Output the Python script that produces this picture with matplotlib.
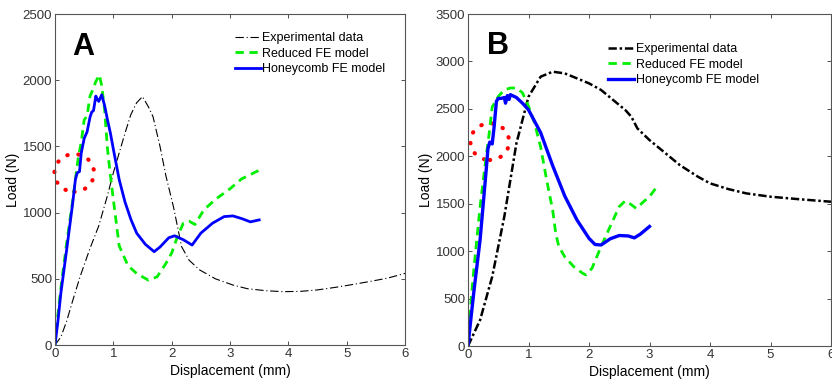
import matplotlib
matplotlib.use('Agg')
import matplotlib.pyplot as plt
from matplotlib.patches import Ellipse
import numpy as np

plt.rcParams['font.family'] = ['Liberation Sans', 'DejaVu Sans']

# ---- panel A data ----
a_exp_x = [0, 0.1, 0.2, 0.3, 0.43, 0.6, 0.75, 0.9, 1.0, 1.1, 1.2, 1.3, 1.4, 1.5, 1.6, 1.68,
           1.8, 1.9, 2.03, 2.17, 2.3, 2.48, 2.75, 3.05, 3.3, 3.62, 3.9, 4.2, 4.48, 4.8, 5.05,
           5.4, 5.7, 6.0]
a_exp_y = [0, 60, 180, 330, 516, 730, 900, 1130, 1300, 1450, 1600, 1740, 1830, 1876, 1800,
           1725, 1500, 1280, 1045, 743, 640, 567, 500, 453, 425, 410, 403, 405, 415, 435, 453,
           480, 505, 541]

a_red_x = [0, 0.05, 0.1, 0.2, 0.3, 0.35, 0.4, 0.45, 0.5, 0.55, 0.6, 0.65, 0.7, 0.76, 0.8,
           0.85, 0.9, 0.95, 1.0, 1.1, 1.25, 1.4, 1.6, 1.75, 1.9, 2.0, 2.1, 2.2, 2.3, 2.4, 2.55,
           2.75, 3.0, 3.2, 3.5]
a_red_y = [0, 230, 430, 770, 1080, 1250, 1420, 1530, 1700, 1730, 1880, 1930, 1990, 2040, 1960,
           1780, 1480, 1280, 1100, 750, 600, 540, 490, 515, 615, 695, 820, 920, 935, 910, 1020,
           1100, 1180, 1255, 1320]

a_hc_x = [0, 0.05, 0.1, 0.2, 0.3, 0.35, 0.38, 0.42, 0.45, 0.5, 0.55, 0.6, 0.63, 0.66, 0.7,
          0.72, 0.75, 0.8, 0.85, 0.9, 0.95, 1.0, 1.1, 1.2, 1.3, 1.4, 1.55, 1.7, 1.8, 1.95, 2.05,
          2.2, 2.35, 2.5, 2.7, 2.9, 3.05, 3.2, 3.35, 3.5]
a_hc_y = [0, 180, 390, 720, 1060, 1250, 1300, 1310, 1450, 1560, 1610, 1720, 1760, 1770, 1880,
          1860, 1840, 1890, 1810, 1700, 1600, 1480, 1250, 1080, 950, 845, 760, 705, 740, 810,
          825, 795, 755, 845, 920, 970, 975, 955, 930, 945]

# ---- panel B data ----
b_exp_x = [0, 0.2, 0.4, 0.6, 0.8, 1.0, 1.2, 1.4, 1.6, 1.8, 2.0, 2.2, 2.4, 2.6, 2.7, 2.8, 3.0,
           3.2, 3.5, 3.8, 4.0, 4.3, 4.6, 5.0, 5.5, 6.0]
b_exp_y = [0, 274, 731, 1363, 2136, 2628, 2839, 2892, 2874, 2822, 2769, 2699, 2593, 2488, 2417,
           2294, 2171, 2066, 1908, 1785, 1715, 1655, 1609, 1574, 1546, 1521]

b_red_x = [0, 0.05, 0.1, 0.2, 0.3, 0.35, 0.4, 0.5, 0.6, 0.7, 0.8, 0.9, 1.0, 1.1, 1.2, 1.3, 1.4,
           1.45, 1.5, 1.6, 1.75, 1.9, 1.95, 2.05, 2.2, 2.35, 2.5, 2.6, 2.7, 2.78, 2.9, 3.0, 3.1]
b_red_y = [0, 480, 830, 1470, 2000, 2240, 2520, 2630, 2700, 2720, 2720, 2670, 2530, 2350, 2100,
           1750, 1430, 1190, 1050, 940, 835, 765, 750, 820, 1050, 1260, 1470, 1530, 1490, 1450,
           1520, 1575, 1660]

b_hc_x = [0, 0.05, 0.1, 0.2, 0.3, 0.33, 0.36, 0.4, 0.43, 0.47, 0.5, 0.55, 0.6, 0.62, 0.65,
          0.68, 0.7, 0.8, 0.9, 1.0, 1.2, 1.4, 1.6, 1.8, 2.0, 2.1, 2.2, 2.35, 2.5, 2.65, 2.75,
          2.85, 3.0]
b_hc_y = [0, 300, 590, 1120, 1850, 2080, 2150, 2130, 2300, 2580, 2610, 2610, 2620, 2560, 2640,
          2600, 2650, 2620, 2560, 2490, 2250, 1900, 1580, 1330, 1135, 1070, 1065, 1130, 1165,
          1160, 1140, 1180, 1260]

labels = ['Experimental data', 'Reduced FE model', 'Honeycomb FE model']

fig = plt.figure(figsize=(8.32, 3.83), dpi=100)
axA = fig.add_axes([0.0661, 0.0992, 0.4207, 0.8642])
axB = fig.add_axes([0.5625, 0.0966, 0.4363, 0.8668])


def draw_panel(ax, ex, ey, rx, ry, hx, hy, exp_lw, hc_lw, ymax, letter, leg_pos, circ):
    ax.plot(ex, ey, color='black', lw=exp_lw, dashes=(6 / exp_lw, 2 / exp_lw, 1, 2 / exp_lw),
            label=labels[0])
    ax.plot(rx, ry, color='#00ee00', lw=2.0, dashes=(3, 2), label=labels[1])
    ax.plot(hx, hy, color='#0000ff', lw=hc_lw, label=labels[2])

    # red dotted circle marking the kink
    ell = Ellipse(circ[:2], circ[2], circ[3], fill=False, edgecolor='#ff0000', lw=3.0,
                  linestyle=(0, (0.1, 2.6)), clip_on=False)
    ell.set_capstyle('round')
    ax.add_patch(ell)

    ax.set_xlim(0, 6)
    ax.set_ylim(0, ymax)
    ax.set_yticks(np.arange(0, ymax + 1, 500))
    ax.set_xlabel('Displacement (mm)', fontsize=10, labelpad=3)
    ax.set_ylabel('Load (N)', fontsize=10, labelpad=2)
    ax.tick_params(direction='in', top=True, right=True, length=3, width=0.6,
                   labelsize=9.5, pad=2, colors='#333333')
    for s in ax.spines.values():
        s.set_color('#555555')
        s.set_linewidth(0.8)

    ax.text(letter[1], letter[2], letter[0], transform=ax.transAxes, fontsize=22,
            fontweight='bold', va='baseline', ha='left')

    ax.legend(loc='upper left', bbox_to_anchor=leg_pos, frameon=False, fontsize=9,
              handlelength=2.1, handletextpad=0.1, labelspacing=0.3, borderpad=0,
              borderaxespad=0)


draw_panel(axA, a_exp_x, a_exp_y, a_red_x, a_red_y, a_hc_x, a_hc_y, 0.8, 2.0, 2500,
           ('A', 0.05, 0.876), (0.514, 0.946), (0.33, 1300, 0.68, 285))
draw_panel(axB, b_exp_x, b_exp_y, b_red_x, b_red_y, b_hc_x, b_hc_y, 1.8, 2.4, 3500,
           ('B', 0.052, 0.88), (0.386, 0.913), (0.36, 2154, 0.64, 386))

fig.savefig('out.png', dpi=100)
